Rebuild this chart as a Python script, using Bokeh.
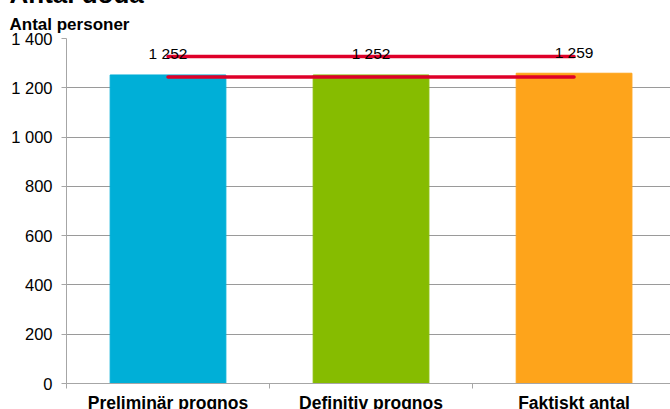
from bokeh.plotting import figure
from bokeh.models import Range1d, FixedTicker, Title, ColumnDataSource
from bokeh.core.properties import value
from bokeh.embed import file_html
from bokeh.resources import INLINE

# ---- data ----
categories = ["Preliminär prognos", "Definitiv prognos", "Faktiskt antal"]
values = [1252, 1252, 1259]
upper_limit = [1327, 1327, 1327]
lower_limit = [1244, 1244, 1244]
y_ticks = [0, 200, 400, 600, 800, 1000, 1200, 1400]
bar_colors = ["#00afd7", "#86bc00", "#fea41b"]
title_text = "Antal döda"
unit_text = "Antal personer"


def fmt(v):
    return f"{v:,}".replace(",", " ")


FONT = "Liberation Sans"
centers = [i + 0.5 for i in range(len(categories))]
bounds = list(range(len(categories) + 1))

src = ColumnDataSource(dict(x=centers, top=values, color=bar_colors,
                            label=[fmt(v) for v in values]))

p = figure(width=670, height=438, output_backend="svg", toolbar_location=None,
           x_range=Range1d(0, 2.975), y_range=Range1d(0, 1400),
           min_border_left=66, min_border_right=0, min_border_top=0,
           min_border_bottom=28, title=None,
           styles={"margin": "-23px 0px -6px 0px"})
p.outline_line_color = None
p.background_fill_color = "white"
p.border_fill_color = "white"

p.vbar(x="x", top="top", width=0.57, color="color", source=src)
p.line(centers, upper_limit, line_color="#de0029", line_width=3.5, line_cap="round")
p.line(centers, lower_limit, line_color="#de0029", line_width=3.5, line_cap="round")
p.text(x="x", y="top", text="label", source=src, text_align="center",
       text_baseline="middle", y_offset=-21, text_font=value(FONT),
       text_font_size="15.5px", text_color="black")

# grid
p.xgrid.grid_line_color = None
p.ygrid.ticker = FixedTicker(ticks=y_ticks)
p.ygrid.grid_line_color = "#9a9a9a"
p.ygrid.grid_line_width = 1

# y axis
ya = p.yaxis[0]
ya.ticker = FixedTicker(ticks=y_ticks)
ya.major_label_overrides = {t: fmt(t) for t in y_ticks}
ya.axis_line_color = "#a6a6a6"
ya.major_tick_line_color = "#a6a6a6"
ya.major_tick_in = 0
ya.major_tick_out = 5
ya.minor_tick_line_color = None
ya.major_label_standoff = 9
ya.major_label_text_font = FONT
ya.major_label_text_font_size = "16.5px"
ya.major_label_text_color = "black"

# x axis
xa = p.xaxis[0]
xa.ticker = FixedTicker(ticks=centers, minor_ticks=bounds)
xa.major_label_overrides = {c: n for c, n in zip(centers, categories)}
xa.axis_line_color = "#a6a6a6"
xa.major_tick_in = 0
xa.major_tick_out = 0
xa.minor_tick_in = 0
xa.minor_tick_out = 5
xa.minor_tick_line_color = "#a6a6a6"
xa.major_label_standoff = 4
xa.major_label_text_font = FONT
xa.major_label_text_font_size = "17.5px"
xa.major_label_text_font_style = "bold"
xa.major_label_text_color = "black"

# titles (nearest the frame first)
p.add_layout(Title(text=unit_text, align="left", offset=-57, standoff=10,
                   text_font=FONT, text_font_size="17px", text_font_style="bold",
                   text_color="black"), "above")
p.add_layout(Title(text=title_text, align="left", offset=-57, standoff=-2,
                   text_font=FONT, text_font_size="26px", text_font_style="bold",
                   text_color="black"), "above")

open("out.html", "w").write(file_html(p, INLINE))
